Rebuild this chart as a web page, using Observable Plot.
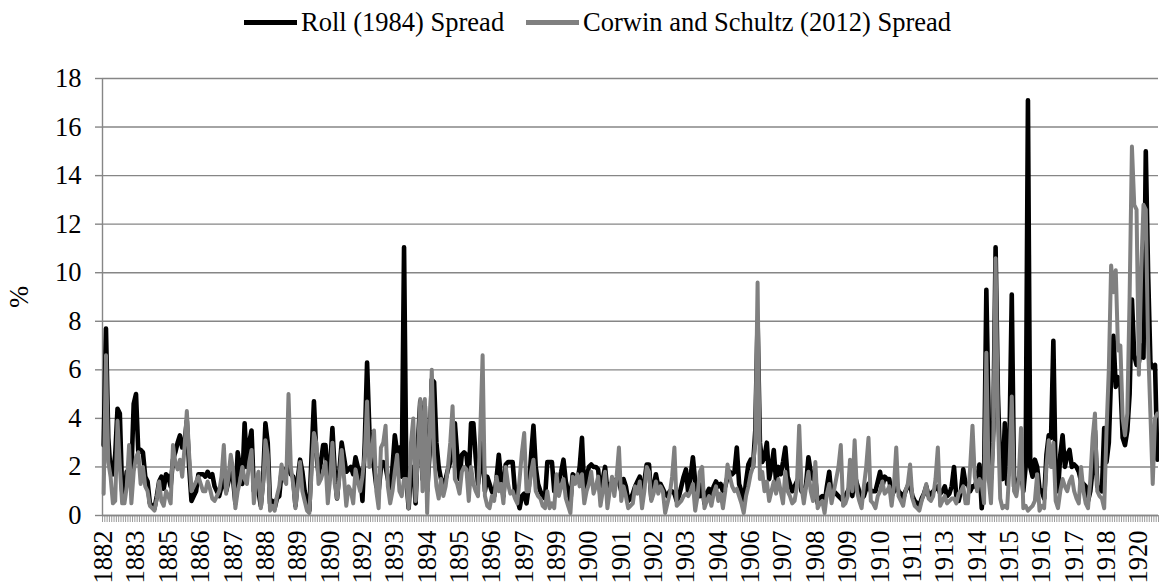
<!DOCTYPE html>
<html>
<head>
<meta charset="utf-8">
<script src="https://cdn.jsdelivr.net/npm/d3@7"></script>
<script src="https://cdn.jsdelivr.net/npm/@observablehq/plot@0.6"></script>
<style>
  html, body { margin: 0; padding: 0; background: #fff; }
  #wrap { width: 1159px; height: 583px; position: relative; overflow: hidden; font-family: "Liberation Serif", "Times New Roman", serif; }
  #legend { position: relative; height: 45px; width: 1159px; font-size: 26.5px; color: #000; }
  .item { position: absolute; top: 0; height: 45px; display: flex; align-items: center; white-space: nowrap; }
  .sw { display: inline-block; width: 53px; height: 5px; margin-right: 4px; }
</style>
</head>
<body>
<div id="wrap">
  <div id="legend"></div>
  <div id="chart"></div>
</div>
<script>
// Series names
const seriesNames = ["Roll (1984) Spread", "Corwin and Schultz (2012) Spread"];
const seriesColors = ["#000000", "#808080"];

// Monthly spread values (%), one per category on the x axis
const roll = [
2.9,7.7,3.2,1.8,1.7,2.5,4.4,4.2,1.0,0.9,
1.8,1.9,1.8,4.6,5.0,2.6,2.7,2.6,1.6,1.4,
0.5,0.4,0.3,0.8,1.4,1.6,1.1,1.7,1.6,1.2,
2.3,2.6,3.0,3.3,2.8,3.0,3.9,2.0,0.6,0.8,
1.0,1.7,1.7,1.7,1.6,1.8,1.6,1.7,1.2,1.0,
0.8,1.2,1.7,1.0,1.4,1.8,1.5,0.5,2.6,2.0,
1.3,3.8,2.0,3.0,3.5,1.0,1.2,1.0,0.4,1.5,
3.8,3.0,0.5,0.6,0.3,0.7,0.8,1.8,1.9,1.8,
2.0,1.7,1.6,0.4,1.5,2.3,1.8,1.0,0.5,0.2,
2.5,4.7,2.6,1.7,2.2,2.9,2.9,1.6,2.0,3.6,
1.8,0.7,1.8,3.0,2.4,1.8,1.9,2.0,1.7,2.4,
2.0,1.8,0.6,3.0,6.3,3.5,2.4,2.0,1.2,1.0,
2.0,2.2,2.0,1.5,1.0,2.0,3.3,2.6,2.8,1.6,
11.05,1.5,0.3,2.0,2.0,0.5,3.0,4.7,1.5,4.5,
1.0,2.5,5.6,5.5,3.0,2.0,1.5,1.3,1.5,1.9,
2.2,2.4,3.8,2.5,1.5,2.5,2.6,2.5,1.5,3.8,
3.8,2.4,1.3,2.0,3.0,1.0,1.6,1.3,1.0,0.8,
1.5,2.5,1.5,0.8,2.1,2.2,2.2,2.2,1.0,0.7,
0.3,0.8,0.9,0.5,1.2,2.5,3.7,2.0,1.3,1.0,
0.8,0.7,2.2,2.2,2.2,1.0,1.6,1.4,1.8,2.3,
1.4,1.0,0.6,1.7,1.6,1.4,2.0,3.2,1.0,1.6,
2.0,2.1,2.0,2.0,1.9,0.8,1.5,2.0,1.0,1.3,
1.3,1.4,1.5,1.4,1.0,1.5,1.2,0.6,0.7,0.9,
1.2,1.4,1.6,0.8,1.4,2.1,2.1,0.7,1.2,1.7,
1.2,1.3,1.1,0.9,0.8,1.0,1.0,0.9,0.6,0.8,
1.2,1.6,1.9,0.9,1.6,2.4,1.4,1.0,0.8,1.3,
0.5,0.9,1.1,0.8,1.2,1.4,1.2,1.3,1.0,1.2,
1.6,1.8,1.7,1.8,2.8,1.3,1.0,0.5,1.4,2.1,
2.3,2.0,3.5,8.0,3.0,2.2,2.4,3.0,1.5,2.0,
2.7,1.4,2.0,1.7,2.2,2.8,1.6,1.3,1.0,1.2,
1.4,1.6,1.0,0.9,1.3,2.4,1.8,1.5,1.5,0.5,
0.7,0.8,0.5,1.2,1.8,0.8,1.0,0.9,0.8,0.7,
0.6,0.8,1.0,1.2,0.8,1.7,1.3,1.0,0.7,0.8,
1.1,1.3,1.0,1.0,1.0,1.4,1.8,1.2,1.6,1.5,
1.5,0.8,1.0,1.3,1.0,0.9,0.7,1.0,1.2,1.3,
0.8,0.6,0.5,0.4,0.7,0.9,1.2,0.8,0.9,1.0,
1.1,1.2,0.9,1.0,1.2,0.8,0.9,1.2,2.0,0.8,
0.6,1.0,1.9,1.3,1.3,1.0,1.2,1.2,1.5,2.1,
0.3,1.5,9.3,4.0,1.5,3.5,11.05,5.0,2.0,1.5,
3.8,1.3,3.0,9.1,1.2,1.3,1.5,2.0,1.0,2.0,
17.1,2.0,1.6,2.3,2.0,1.1,1.0,0.7,2.5,3.3,
3.2,7.2,1.5,1.0,2.5,3.3,2.0,2.5,2.7,2.0,
2.1,2.0,1.8,1.4,1.3,1.2,0.6,1.0,1.9,3.5,
1.2,1.1,1.0,3.6,2.2,3.0,5.8,7.4,5.3,5.7,
5.5,3.2,2.9,3.5,5.0,8.9,6.6,6.2,6.3,7.0,
6.5,15.0,10.0,6.3,6.1,6.2,2.3
];

const corwinSchultz = [
0.9,6.6,2.2,1.6,0.5,0.6,3.9,2.0,0.5,0.5,
1.2,2.9,0.5,1.8,2.4,2.6,1.3,2.0,1.2,1.0,
0.4,0.3,0.2,0.7,1.4,0.6,0.4,1.0,0.8,0.5,
2.9,2.2,1.9,2.3,1.6,2.8,4.3,2.5,1.0,1.2,
1.4,1.6,1.3,1.0,1.0,1.4,1.1,0.7,0.6,0.8,
1.0,1.6,2.9,0.9,1.6,2.5,1.9,0.3,1.0,1.4,
2.0,1.5,1.3,2.2,2.7,0.5,1.4,1.8,0.3,1.2,
3.1,2.5,0.2,0.4,0.2,0.8,1.2,2.1,1.5,1.3,
5.0,2.0,1.3,0.3,1.2,2.2,1.0,0.6,0.2,0.1,
1.8,3.4,3.0,1.3,1.5,1.8,2.2,0.5,1.5,3.0,
1.3,0.7,1.5,2.7,1.6,0.4,1.2,1.0,0.5,1.9,
1.4,1.0,1.6,2.5,4.7,2.0,2.6,3.5,1.0,0.3,
2.8,3.0,3.7,1.2,0.5,1.0,1.8,2.5,1.0,0.8,
1.5,1.5,0.3,3.0,4.0,0.6,2.5,4.8,1.0,4.8,
0.1,3.0,6.0,2.5,1.2,0.7,1.5,0.8,1.2,2.0,
3.0,4.5,1.5,1.3,0.9,1.8,2.0,1.9,0.6,2.0,
1.3,1.0,0.8,3.5,6.6,0.8,0.4,0.3,0.8,0.6,
1.6,1.0,1.3,0.5,2.0,1.3,0.9,1.0,0.7,0.5,
1.5,2.6,3.4,1.0,1.0,1.8,2.3,1.0,0.8,0.7,
0.4,0.3,1.0,0.3,0.5,0.3,1.7,0.8,1.2,1.5,
0.7,0.4,0.1,1.6,1.3,1.7,1.2,1.7,0.5,1.0,
1.3,1.8,0.9,1.2,1.6,0.4,1.0,1.8,0.3,1.0,
1.6,0.8,1.6,2.8,0.6,1.2,0.8,0.3,0.4,0.5,
1.2,0.9,1.4,0.3,1.0,2.0,1.8,0.6,0.9,1.4,
0.9,1.2,1.0,0.1,0.5,0.9,1.6,2.8,0.4,0.5,
0.6,0.8,0.9,0.8,1.0,1.3,0.2,0.8,1.8,2.0,
0.3,0.6,0.8,0.4,0.9,1.2,0.6,0.9,0.3,1.0,
2.1,1.6,1.2,1.0,1.1,0.8,0.5,0.1,0.8,1.2,
1.7,2.0,3.0,9.6,1.5,1.8,1.0,1.4,0.6,1.0,
1.4,0.9,1.5,1.0,0.5,1.8,1.0,0.8,0.5,0.6,
1.2,3.7,1.2,0.5,1.2,1.8,1.0,0.6,2.2,0.3,
0.5,0.6,0.1,0.9,1.3,0.5,1.0,1.5,2.0,2.9,
0.4,0.5,0.8,2.3,1.0,3.1,1.0,0.6,0.3,1.2,
2.0,3.2,0.6,0.5,0.3,0.8,1.0,1.4,0.9,1.0,
1.2,0.4,1.2,2.8,0.8,0.6,0.4,1.0,1.3,2.1,
0.7,0.4,0.3,0.2,0.6,0.9,1.3,0.7,0.6,0.8,
1.5,2.8,0.4,0.6,0.8,0.5,0.6,0.7,0.7,0.5,
0.9,1.0,1.2,0.5,0.5,2.0,3.7,1.6,1.0,1.5,
1.3,0.5,6.7,1.5,0.5,3.0,10.6,4.0,0.7,0.3,
0.4,0.3,2.0,4.9,1.0,0.8,1.5,3.6,0.3,0.4,
0.2,0.3,0.4,0.6,1.7,0.2,0.4,0.3,2.0,3.1,
2.0,3.0,0.6,0.3,1.0,1.5,1.2,1.0,1.4,1.6,
1.0,0.7,0.5,2.0,1.0,0.5,0.3,1.5,3.2,4.2,
1.0,0.8,0.7,0.3,3.5,6.0,10.3,9.2,10.1,6.8,
7.0,4.0,3.3,4.2,9.0,15.2,12.8,12.6,5.8,10.0,
12.8,12.6,7.0,4.2,1.3,4.0,4.2
];

// Category-axis tick labels (one every 14 categories, as in the original)
const tickYears = [1882,1883,1885,1886,1887,1888,1889,1890,1892,1893,1894,1895,1896,1897,1899,1900,
  1901,1902,1903,1904,1906,1907,1908,1909,1910,1911,1913,1914,1915,1916,1917,1918,1920];
const labelEvery = 14;

// Y axis ticks
const yTicks = [0,2,4,6,8,10,12,14,16,18];

// ---- legend ----
const legend = document.getElementById("legend");
const legendLeft = [244, 526];
seriesNames.forEach((name, k) => {
  const it = document.createElement("div");
  it.className = "item";
  it.style.left = legendLeft[k] + "px";
  const sw = document.createElement("span");
  sw.className = "sw";
  sw.style.background = seriesColors[k];
  const tx = document.createElement("span");
  tx.textContent = name;
  it.appendChild(sw); it.appendChild(tx);
  legend.appendChild(it);
});

// ---- chart ----
const N = roll.length;
const idx = d3.range(N);
const boundaries = d3.range(N + 1).map(i => i - 0.5);
const labelIdx = tickYears.map((_, k) => k * labelEvery);
const labelOf = new Map(labelIdx.map((v, k) => [v, String(tickYears[k])]));
const gridColor = "#868686";

const chart = Plot.plot({
  width: 1159,
  height: 538,
  marginTop: 33,
  marginBottom: 68,
  marginLeft: 102,
  marginRight: 1,
  x: {domain: [-0.5, N - 0.5], axis: null},
  y: {domain: [0, 18], axis: null},
  style: {fontFamily: "'Liberation Serif', 'Times New Roman', serif", fontSize: "26.5px", background: "white", color: "black", overflow: "visible"},
  marks: [
    Plot.gridY(yTicks, {stroke: gridColor, strokeOpacity: 1, strokeWidth: 1.4}),
    Plot.axisY(yTicks, {tickSize: 7, tickPadding: 14, stroke: gridColor, strokeWidth: 1.4, fill: "black",
      label: "%", labelAnchor: "center", labelArrow: "none", labelOffset: 93}),
    Plot.ruleX([-0.5], {stroke: gridColor, strokeWidth: 1.4}),
    Plot.axisX(boundaries, {tickSize: 7, stroke: "#9a9a9a", strokeWidth: 1, fill: "none", label: null}),
    Plot.ruleY([0], {stroke: gridColor, strokeWidth: 1.4}),
    Plot.axisX(labelIdx, {tickSize: 0, tickPadding: 15, tickRotate: -90, fill: "black", label: null,
      tickFormat: d => labelOf.get(d)}),
    Plot.line(idx, {x: i => i, y: i => roll[i], stroke: seriesColors[0], strokeWidth: 4.6, strokeLinejoin: "round", strokeLinecap: "round"}),
    Plot.line(idx, {x: i => i, y: i => corwinSchultz[i], stroke: seriesColors[1], strokeWidth: 4.0, strokeLinejoin: "round", strokeLinecap: "round"})
  ]
});
document.getElementById("chart").appendChild(chart);
</script>
</body>
</html>
